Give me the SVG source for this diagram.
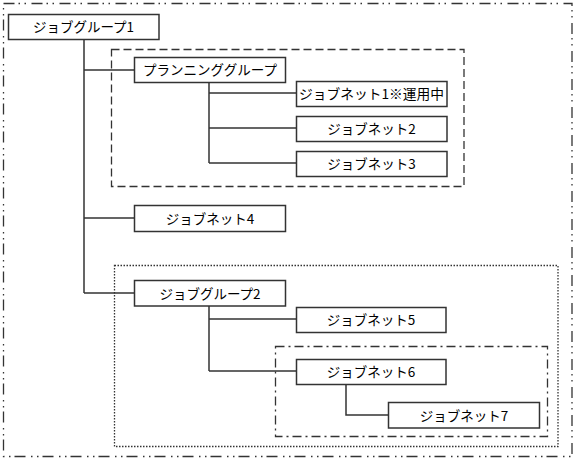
<svg xmlns="http://www.w3.org/2000/svg" width="576" height="460" viewBox="0 0 576 460">
<style>
.frame{fill:none;stroke:#333;stroke-width:1.3}
.box{fill:#fff;stroke:#333;stroke-width:1.5}
.lbl{font-family:"Noto Sans CJK JP","DejaVu Sans",sans-serif;font-size:13.5px;fill:#000;text-anchor:middle}
.con{fill:none;stroke:#333;stroke-width:1.5}
</style>
<rect width="576" height="460" fill="#fff"/>
<g id="frames">
<rect class="frame" x="3.5" y="3.5" width="568.5" height="453" stroke-dasharray="11 4 1.5 4.5 1.5 5.5"/>
<rect class="frame" x="111.5" y="49.5" width="352.5" height="137" stroke-dasharray="8 4"/>
<rect class="frame" x="114.5" y="265.5" width="443.5" height="181" stroke-dasharray="1.5 1.5"/>
<rect class="frame" x="275.5" y="346.5" width="272" height="90" stroke-dasharray="9 4 2 4"/>
</g>
<g id="connectors">
<path class="con" d="M84 39V293M84 70H134M84 218H134M84 293H134"/>
<path class="con" d="M209 82V163M209 93H296M209 128H296M209 163H296"/>
<path class="con" d="M209 306V371M209 319H296M209 371H296"/>
<path class="con" d="M346 384V415H388"/>
</g>
<g id="jobgroup1"><rect class="box" x="8.5" y="14.5" width="150.5" height="25"/><text class="lbl" x="83.5" y="32">ジョブグループ1</text></g>
<g id="planning"><rect class="box" x="134.5" y="57.5" width="151" height="25"/><text class="lbl" x="210" y="75">プランニンググループ</text></g>
<g id="jobnet1"><rect class="box" x="296.5" y="81.5" width="150.5" height="25"/><text class="lbl" x="371.5" y="99" textLength="145" lengthAdjust="spacingAndGlyphs">ジョブネット1※運用中</text></g>
<g id="jobnet2"><rect class="box" x="296.5" y="116.5" width="150.5" height="25"/><text class="lbl" x="371.5" y="134">ジョブネット2</text></g>
<g id="jobnet3"><rect class="box" x="296.5" y="151.5" width="150.5" height="25"/><text class="lbl" x="371.5" y="169">ジョブネット3</text></g>
<g id="jobnet4"><rect class="box" x="134.5" y="205.5" width="151" height="26"/><text class="lbl" x="210" y="223.5">ジョブネット4</text></g>
<g id="jobgroup2"><rect class="box" x="134.5" y="280.5" width="151" height="25.5"/><text class="lbl" x="210" y="298.5">ジョブグループ2</text></g>
<g id="jobnet5"><rect class="box" x="296.5" y="307.5" width="149.5" height="25"/><text class="lbl" x="371" y="325">ジョブネット5</text></g>
<g id="jobnet6"><rect class="box" x="296.5" y="359.5" width="149.5" height="25"/><text class="lbl" x="371" y="377">ジョブネット6</text></g>
<g id="jobnet7"><rect class="box" x="388.5" y="402.5" width="151" height="25.5"/><text class="lbl" x="464" y="420.5">ジョブネット7</text></g>
</svg>
